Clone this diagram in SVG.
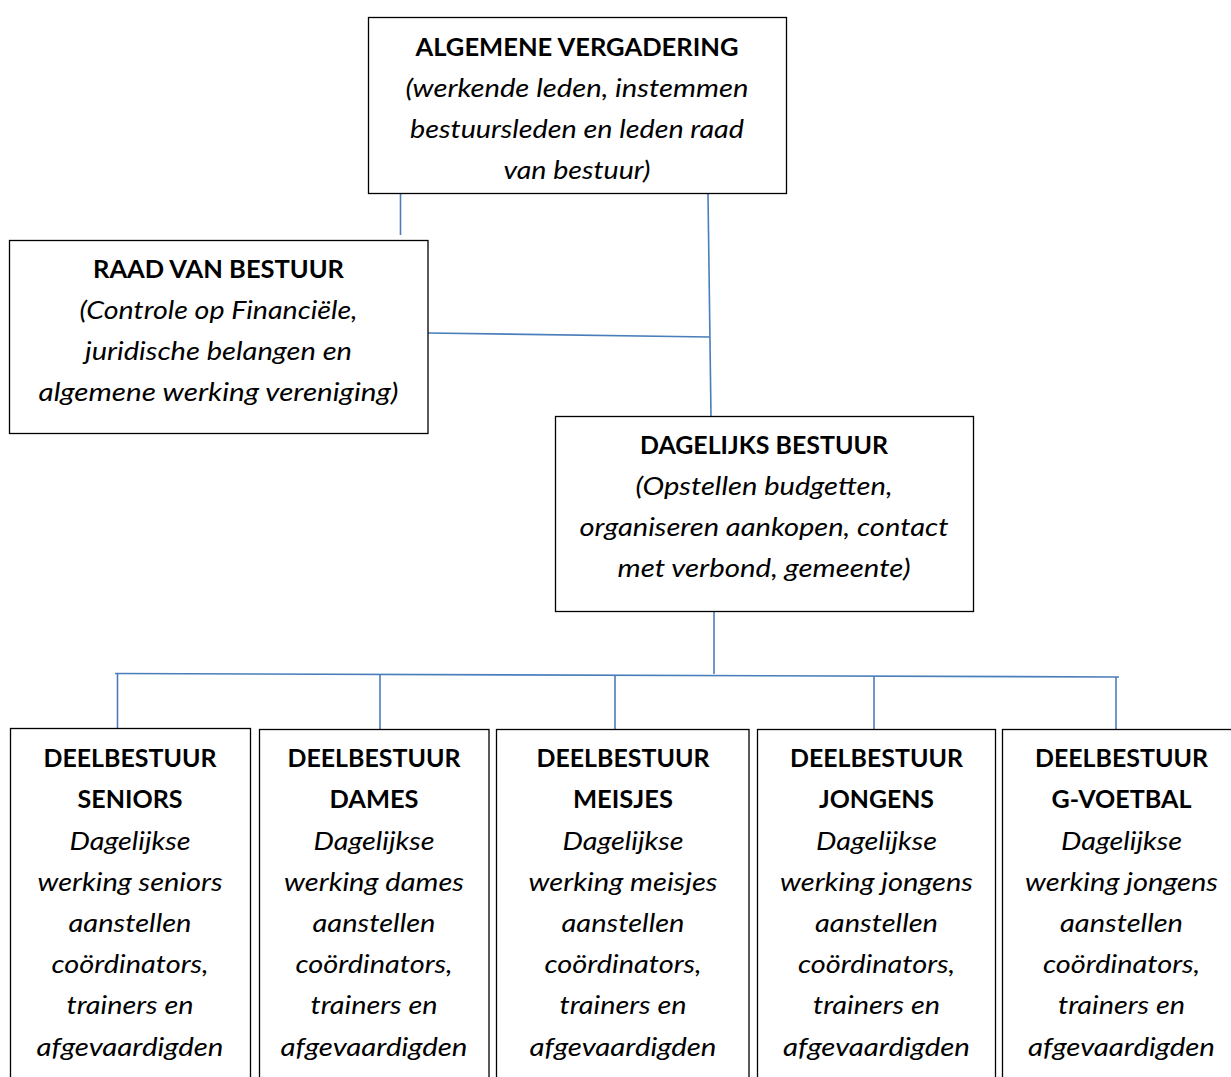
<svg xmlns="http://www.w3.org/2000/svg" width="1231" height="1077" viewBox="0 0 1231 1077">
<style>
.box{fill:#fff;stroke:#000;stroke-width:1.3}
.t{font-family:Lato,"Liberation Sans",sans-serif;font-size:25px;fill:#000;text-anchor:middle}
.b{font-weight:bold}
.i{font-style:italic}
.c{stroke:#4a7ebb;stroke-width:1.6;fill:none}
</style>
<rect width="1231" height="1077" fill="#fff"/>
<g id="connectors">
<line class="c" x1="400.5" y1="194" x2="400.5" y2="235"/>
<line class="c" x1="708" y1="194" x2="711" y2="416"/>
<line class="c" x1="428" y1="333" x2="709.5" y2="337"/>
<line class="c" x1="714" y1="611" x2="714" y2="674"/>
<line class="c" x1="115" y1="673.5" x2="1119" y2="677"/>
<line class="c" x1="117.5" y1="673.5" x2="117.5" y2="729"/>
<line class="c" x1="380" y1="674.5" x2="380" y2="729"/>
<line class="c" x1="615" y1="675" x2="615" y2="730"/>
<line class="c" x1="874" y1="676" x2="874" y2="732"/>
<line class="c" x1="1116" y1="677" x2="1116" y2="733"/>
</g>
<g id="algemene-vergadering">
<rect class="box" x="368.5" y="17.5" width="418" height="176"/>
<text class="t b" x="577" y="56" textLength="323" lengthAdjust="spacingAndGlyphs">ALGEMENE VERGADERING</text>
<text class="t i" x="577" y="97" textLength="343" lengthAdjust="spacingAndGlyphs">(werkende leden, instemmen</text>
<text class="t i" x="577" y="138" textLength="334" lengthAdjust="spacingAndGlyphs">bestuursleden en leden raad</text>
<text class="t i" x="577" y="179" textLength="147" lengthAdjust="spacingAndGlyphs">van bestuur)</text>
</g>
<g id="raad-van-bestuur">
<rect class="box" x="9.5" y="240.5" width="418.5" height="193"/>
<text class="t b" x="218.5" y="278" textLength="251" lengthAdjust="spacingAndGlyphs">RAAD VAN BESTUUR</text>
<text class="t i" x="218.5" y="319" textLength="278" lengthAdjust="spacingAndGlyphs">(Controle op Financiële,</text>
<text class="t i" x="218.5" y="360" textLength="267" lengthAdjust="spacingAndGlyphs">juridische belangen en</text>
<text class="t i" x="218.5" y="401" textLength="360" lengthAdjust="spacingAndGlyphs">algemene werking vereniging)</text>
</g>
<g id="dagelijks-bestuur">
<rect class="box" x="555.5" y="416.5" width="418" height="195"/>
<text class="t b" x="764" y="454" textLength="248" lengthAdjust="spacingAndGlyphs">DAGELIJKS BESTUUR</text>
<text class="t i" x="764" y="495" textLength="257" lengthAdjust="spacingAndGlyphs">(Opstellen budgetten,</text>
<text class="t i" x="764" y="536" textLength="369" lengthAdjust="spacingAndGlyphs">organiseren aankopen, contact</text>
<text class="t i" x="764" y="577" textLength="293" lengthAdjust="spacingAndGlyphs">met verbond, gemeente)</text>
</g>
<g id="deelbestuur-seniors">
<rect class="box" x="10.5" y="728.5" width="240" height="360"/>
<text class="t b" x="130" y="767" textLength="173" lengthAdjust="spacingAndGlyphs">DEELBESTUUR</text>
<text class="t b" x="130" y="808" textLength="105" lengthAdjust="spacingAndGlyphs">SENIORS</text>
<text class="t i" x="130" y="849.5" textLength="121" lengthAdjust="spacingAndGlyphs">Dagelijkse</text>
<text class="t i" x="130" y="891" textLength="185" lengthAdjust="spacingAndGlyphs">werking seniors</text>
<text class="t i" x="130" y="932" textLength="123" lengthAdjust="spacingAndGlyphs">aanstellen</text>
<text class="t i" x="130" y="973" textLength="157" lengthAdjust="spacingAndGlyphs">coördinators,</text>
<text class="t i" x="130" y="1014" textLength="127" lengthAdjust="spacingAndGlyphs">trainers en</text>
<text class="t i" x="130" y="1056" textLength="187" lengthAdjust="spacingAndGlyphs">afgevaardigden</text>
</g>
<g id="deelbestuur-dames">
<rect class="box" x="259.5" y="729.5" width="229.5" height="360"/>
<text class="t b" x="374" y="767" textLength="173" lengthAdjust="spacingAndGlyphs">DEELBESTUUR</text>
<text class="t b" x="374" y="808" textLength="89" lengthAdjust="spacingAndGlyphs">DAMES</text>
<text class="t i" x="374" y="849.5" textLength="121" lengthAdjust="spacingAndGlyphs">Dagelijkse</text>
<text class="t i" x="374" y="891" textLength="180" lengthAdjust="spacingAndGlyphs">werking dames</text>
<text class="t i" x="374" y="932" textLength="123" lengthAdjust="spacingAndGlyphs">aanstellen</text>
<text class="t i" x="374" y="973" textLength="157" lengthAdjust="spacingAndGlyphs">coördinators,</text>
<text class="t i" x="374" y="1014" textLength="127" lengthAdjust="spacingAndGlyphs">trainers en</text>
<text class="t i" x="374" y="1056" textLength="187" lengthAdjust="spacingAndGlyphs">afgevaardigden</text>
</g>
<g id="deelbestuur-meisjes">
<rect class="box" x="496.5" y="729.5" width="252.5" height="360"/>
<text class="t b" x="623" y="767" textLength="173" lengthAdjust="spacingAndGlyphs">DEELBESTUUR</text>
<text class="t b" x="623" y="808" textLength="100" lengthAdjust="spacingAndGlyphs">MEISJES</text>
<text class="t i" x="623" y="849.5" textLength="121" lengthAdjust="spacingAndGlyphs">Dagelijkse</text>
<text class="t i" x="623" y="891" textLength="189" lengthAdjust="spacingAndGlyphs">werking meisjes</text>
<text class="t i" x="623" y="932" textLength="123" lengthAdjust="spacingAndGlyphs">aanstellen</text>
<text class="t i" x="623" y="973" textLength="157" lengthAdjust="spacingAndGlyphs">coördinators,</text>
<text class="t i" x="623" y="1014" textLength="127" lengthAdjust="spacingAndGlyphs">trainers en</text>
<text class="t i" x="623" y="1056" textLength="187" lengthAdjust="spacingAndGlyphs">afgevaardigden</text>
</g>
<g id="deelbestuur-jongens">
<rect class="box" x="757.5" y="729.5" width="238" height="360"/>
<text class="t b" x="876.5" y="767" textLength="173" lengthAdjust="spacingAndGlyphs">DEELBESTUUR</text>
<text class="t b" x="876.5" y="808" textLength="115" lengthAdjust="spacingAndGlyphs">JONGENS</text>
<text class="t i" x="876.5" y="849.5" textLength="121" lengthAdjust="spacingAndGlyphs">Dagelijkse</text>
<text class="t i" x="876.5" y="891" textLength="193" lengthAdjust="spacingAndGlyphs">werking jongens</text>
<text class="t i" x="876.5" y="932" textLength="123" lengthAdjust="spacingAndGlyphs">aanstellen</text>
<text class="t i" x="876.5" y="973" textLength="157" lengthAdjust="spacingAndGlyphs">coördinators,</text>
<text class="t i" x="876.5" y="1014" textLength="127" lengthAdjust="spacingAndGlyphs">trainers en</text>
<text class="t i" x="876.5" y="1056" textLength="187" lengthAdjust="spacingAndGlyphs">afgevaardigden</text>
</g>
<g id="deelbestuur-g-voetbal">
<rect class="box" x="1002.5" y="729.5" width="238" height="360"/>
<text class="t b" x="1121.5" y="767" textLength="173" lengthAdjust="spacingAndGlyphs">DEELBESTUUR</text>
<text class="t b" x="1121.5" y="808" textLength="140" lengthAdjust="spacingAndGlyphs">G-VOETBAL</text>
<text class="t i" x="1121.5" y="849.5" textLength="121" lengthAdjust="spacingAndGlyphs">Dagelijkse</text>
<text class="t i" x="1121.5" y="891" textLength="193" lengthAdjust="spacingAndGlyphs">werking jongens</text>
<text class="t i" x="1121.5" y="932" textLength="123" lengthAdjust="spacingAndGlyphs">aanstellen</text>
<text class="t i" x="1121.5" y="973" textLength="157" lengthAdjust="spacingAndGlyphs">coördinators,</text>
<text class="t i" x="1121.5" y="1014" textLength="127" lengthAdjust="spacingAndGlyphs">trainers en</text>
<text class="t i" x="1121.5" y="1056" textLength="187" lengthAdjust="spacingAndGlyphs">afgevaardigden</text>
</g>
</svg>
